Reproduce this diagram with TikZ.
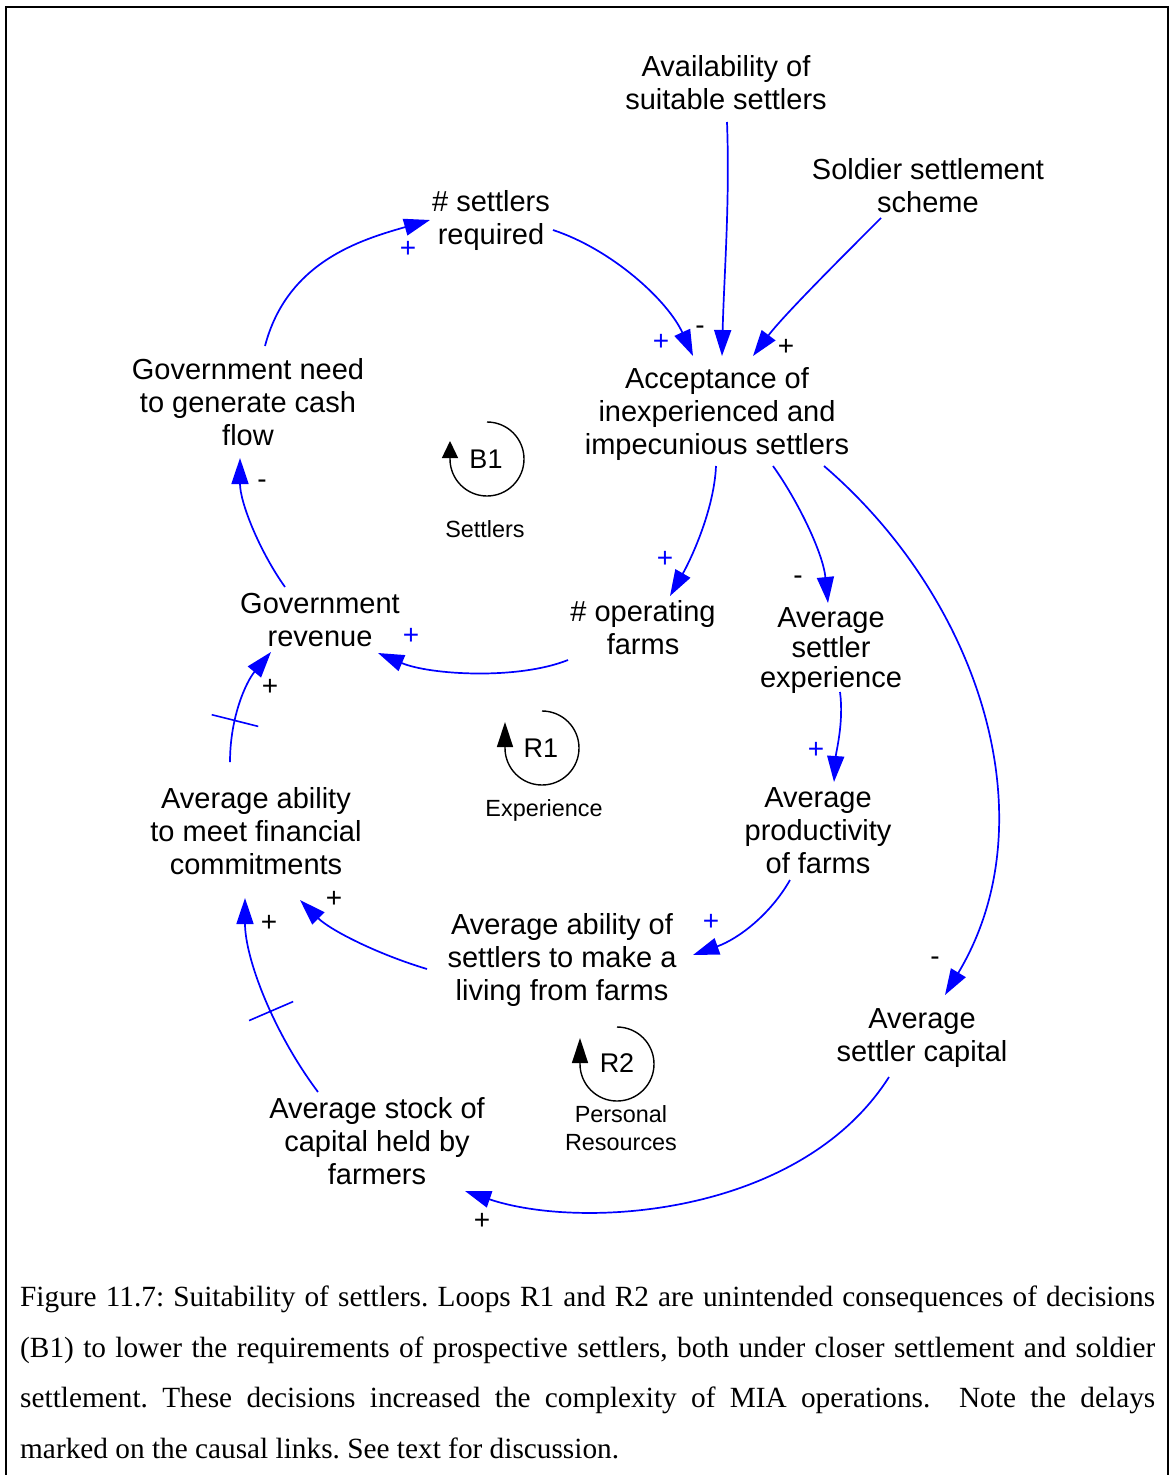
\documentclass[tikz,border=0pt]{standalone}
\usepackage{fontspec}
\setmainfont{Liberation Sans}
\newfontfamily\captionserif{Liberation Serif}
\usetikzlibrary{arrows.meta,calc}
\definecolor{linkblue}{RGB}{0,0,255}

\begin{document}
\frenchspacing
\begin{tikzpicture}[x=1pt,y=-1pt,
  var/.style={align=center, inner sep=0pt, font=\fontsize{29}{33}\selectfont},
  link/.style={draw=linkblue, line width=1.7pt, -{Triangle[length=26pt,width=17pt]}},
  delaymark/.style={sloped, inner sep=0pt, text=linkblue},
  pol/.style={inner sep=0pt, font=\fontsize{28}{28}\selectfont},
  polb/.style={pol, text=linkblue},
  loopname/.style={inner sep=0pt, font=\fontsize{27}{27}\selectfont},
  looptag/.style={align=center, inner sep=0pt, font=\fontsize{23.4}{28}\selectfont},
  loopline/.style={line width=1.4pt},
  capline/.style={anchor=base west, inner sep=0pt, font=\captionserif\fontsize{29.3}{50}\selectfont}
]
\useasboundingbox (0,0) rectangle (1170,1475);

% page frame (open at the foot)
\draw[line width=2pt] (6,1480) -- (6,7) -- (1168,7) -- (1168,1480);

% variables
\node[var] (avail)   at (726,83)   {Availability of\\suitable settlers};
\node[var] (soldier) at (928,186)  {Soldier settlement\\scheme};
\node[var] (req)     at (491,220)  {\# settlers\\required};
\node[var] (acc)     at (717,414)  {Acceptance of\\inexperienced and\\impecunious settlers};
\node[var] (govneed) at (248,402)  {Government need\\to generate cash\\flow};
\node[var] (rev)     at (320,620)  {Government\\revenue};
\node[var] (ops)     at (643,628)  {\# operating\\farms};
\node[var, font=\fontsize{29}{30}\selectfont] (exp) at (831,651) {Average\\settler\\experience};
\node[var] (prod)    at (818,831)  {Average\\productivity\\of farms};
\node[var] (living)  at (562,960)  {Average ability of\\settlers to make a\\living from farms};
\node[var] (meet)    at (256,831)  {Average ability\\to meet financial\\commitments};
\node[var] (cap)     at (922,1038) {Average\\settler capital};
\node[var] (stock)   at (377,1141) {Average stock of\\capital held by\\farmers};

% causal links
\draw[link] ($(avail)+(1,39)$) .. controls +(3,80) and +(2,-80) .. ($(acc)+(5,-58)$);
\draw[link] ($(soldier)+(-47,32)$) .. controls +(-40,40) and +(30,-40) .. ($(acc)+(36,-58)$);
\draw[link] ($(req)+(62,10)$) .. controls +(60,20) and +(-25,-55) .. ($(acc)+(-24,-58)$);
\draw[link] ($(govneed)+(17,-56)$) .. controls +(22,-84) and +(-70,20) .. ($(req)+(-61,0)$);
\draw[link] ($(rev)+(-35,-33)$) .. controls +(-25,-35) and +(0,45) .. ($(govneed)+(-8,56)$);
\draw[link] ($(ops)+(-75,32)$) .. controls +(-50,20) and +(52,22) .. ($(rev)+(58,33)$);
\draw[link] ($(acc)+(-1,52)$) .. controls +(-2,45) and +(20,-35) .. ($(ops)+(27,-32)$);
\draw[link] ($(acc)+(56,52)$) .. controls +(25,35) and +(-5,-50) .. ($(exp)+(-3,-48)$);
\draw[link] ($(acc)+(107,52)$) .. controls +(156,134) and +(105,-175) .. ($(cap)+(23,-43)$);
\draw[link] ($(exp)+(9,41)$) .. controls +(4,30) and +(2,-30) .. ($(prod)+(16,-49)$);
\draw[link] ($(prod)+(-28,49)$) .. controls +(-20,35) and +(45,-16) .. ($(living)+(131,-5)$);
\draw[link] ($(living)+(-135,9)$) .. controls +(-50,-15) and +(30,30) .. ($(meet)+(44,69)$);
\draw[link] ($(stock)+(-59,-49)$) .. controls +(-45,-60) and +(0,60) .. ($(meet)+(-11,67)$)
  node[delaymark, pos=0.42] (d1) {\rule{1.6pt}{48pt}};
\draw[link] ($(meet)+(-26,-69)$) .. controls +(0,-45) and +(-25,30) .. ($(rev)+(-49,32)$)
  node[delaymark, pos=0.33] (d2) {\rule{1.6pt}{48pt}};
\draw[link] ($(cap)+(-33,39)$) .. controls +(-89,140) and +(115,39) .. ($(stock)+(88,50)$);

% link polarities
\node[pol]  (s1)  at (700,330)  {-};
\node[polb] (s2)  at (661,342)  {+};
\node[pol]  (s3)  at (786,347)  {+};
\node[polb] (s4)  at (408,249)  {+};
\node[pol]  (s5)  at (262,484)  {-};
\node[polb] (s6)  at (411,636)  {+};
\node[pol]  (s7)  at (270,687)  {+};
\node[polb] (s8)  at (665,559)  {+};
\node[pol]  (s9)  at (798,580)  {-};
\node[polb] (s10) at (816,750)  {+};
\node[polb] (s11) at (711,922)  {+};
\node[pol]  (s12) at (935,961)  {-};
\node[pol]  (s13) at (334,899)  {+};
\node[pol]  (s14) at (269,923)  {+};
\node[pol]  (s15) at (482,1221) {+};

% loop identifiers
\node[loopname] (b1) at (486,459) {B1};
\draw[loopline, -{Triangle[length=17pt,width=16pt]}]
  ($(b1)+(1,-37)$) arc[start angle=-90, end angle=180, radius=37] -- +(0,-18);
\node[looptag] (t1) at (485,529) {Settlers};

\node[loopname] (r1) at (541,748) {R1};
\draw[loopline, -{Triangle[length=25pt,width=16pt]}]
  ($(r1)+(1,-37)$) arc[start angle=-90, end angle=180, radius=37] -- +(0,-26);
\node[looptag] (t2) at (544,810) {Experience};

\node[loopname] (r2) at (617,1063) {R2};
\draw[loopline, -{Triangle[length=25pt,width=16pt]}]
  ($(r2)+(0,-36)$) arc[start angle=-90, end angle=180, radius=37] -- +(0,-26);
\node[looptag] (t3) at (621,1128) {Personal\\Resources};

% caption
\node[capline] (c1) at (20,1306) {\makebox[1135pt][s]{Figure 11.7: Suitability of settlers. Loops R1 and R2 are unintended consequences of decisions}};
\node[capline] (c2) at (20,1357) {\makebox[1135pt][s]{(B1) to lower the requirements of prospective settlers, both under closer settlement and soldier}};
\node[capline] (c3) at (20,1407) {\makebox[1135pt][s]{settlement. These decisions increased the complexity of MIA operations.~ Note the delays}};
\node[capline] (c4) at (20,1458) {marked on the causal links. See text for discussion.};
\end{tikzpicture}
\end{document}
